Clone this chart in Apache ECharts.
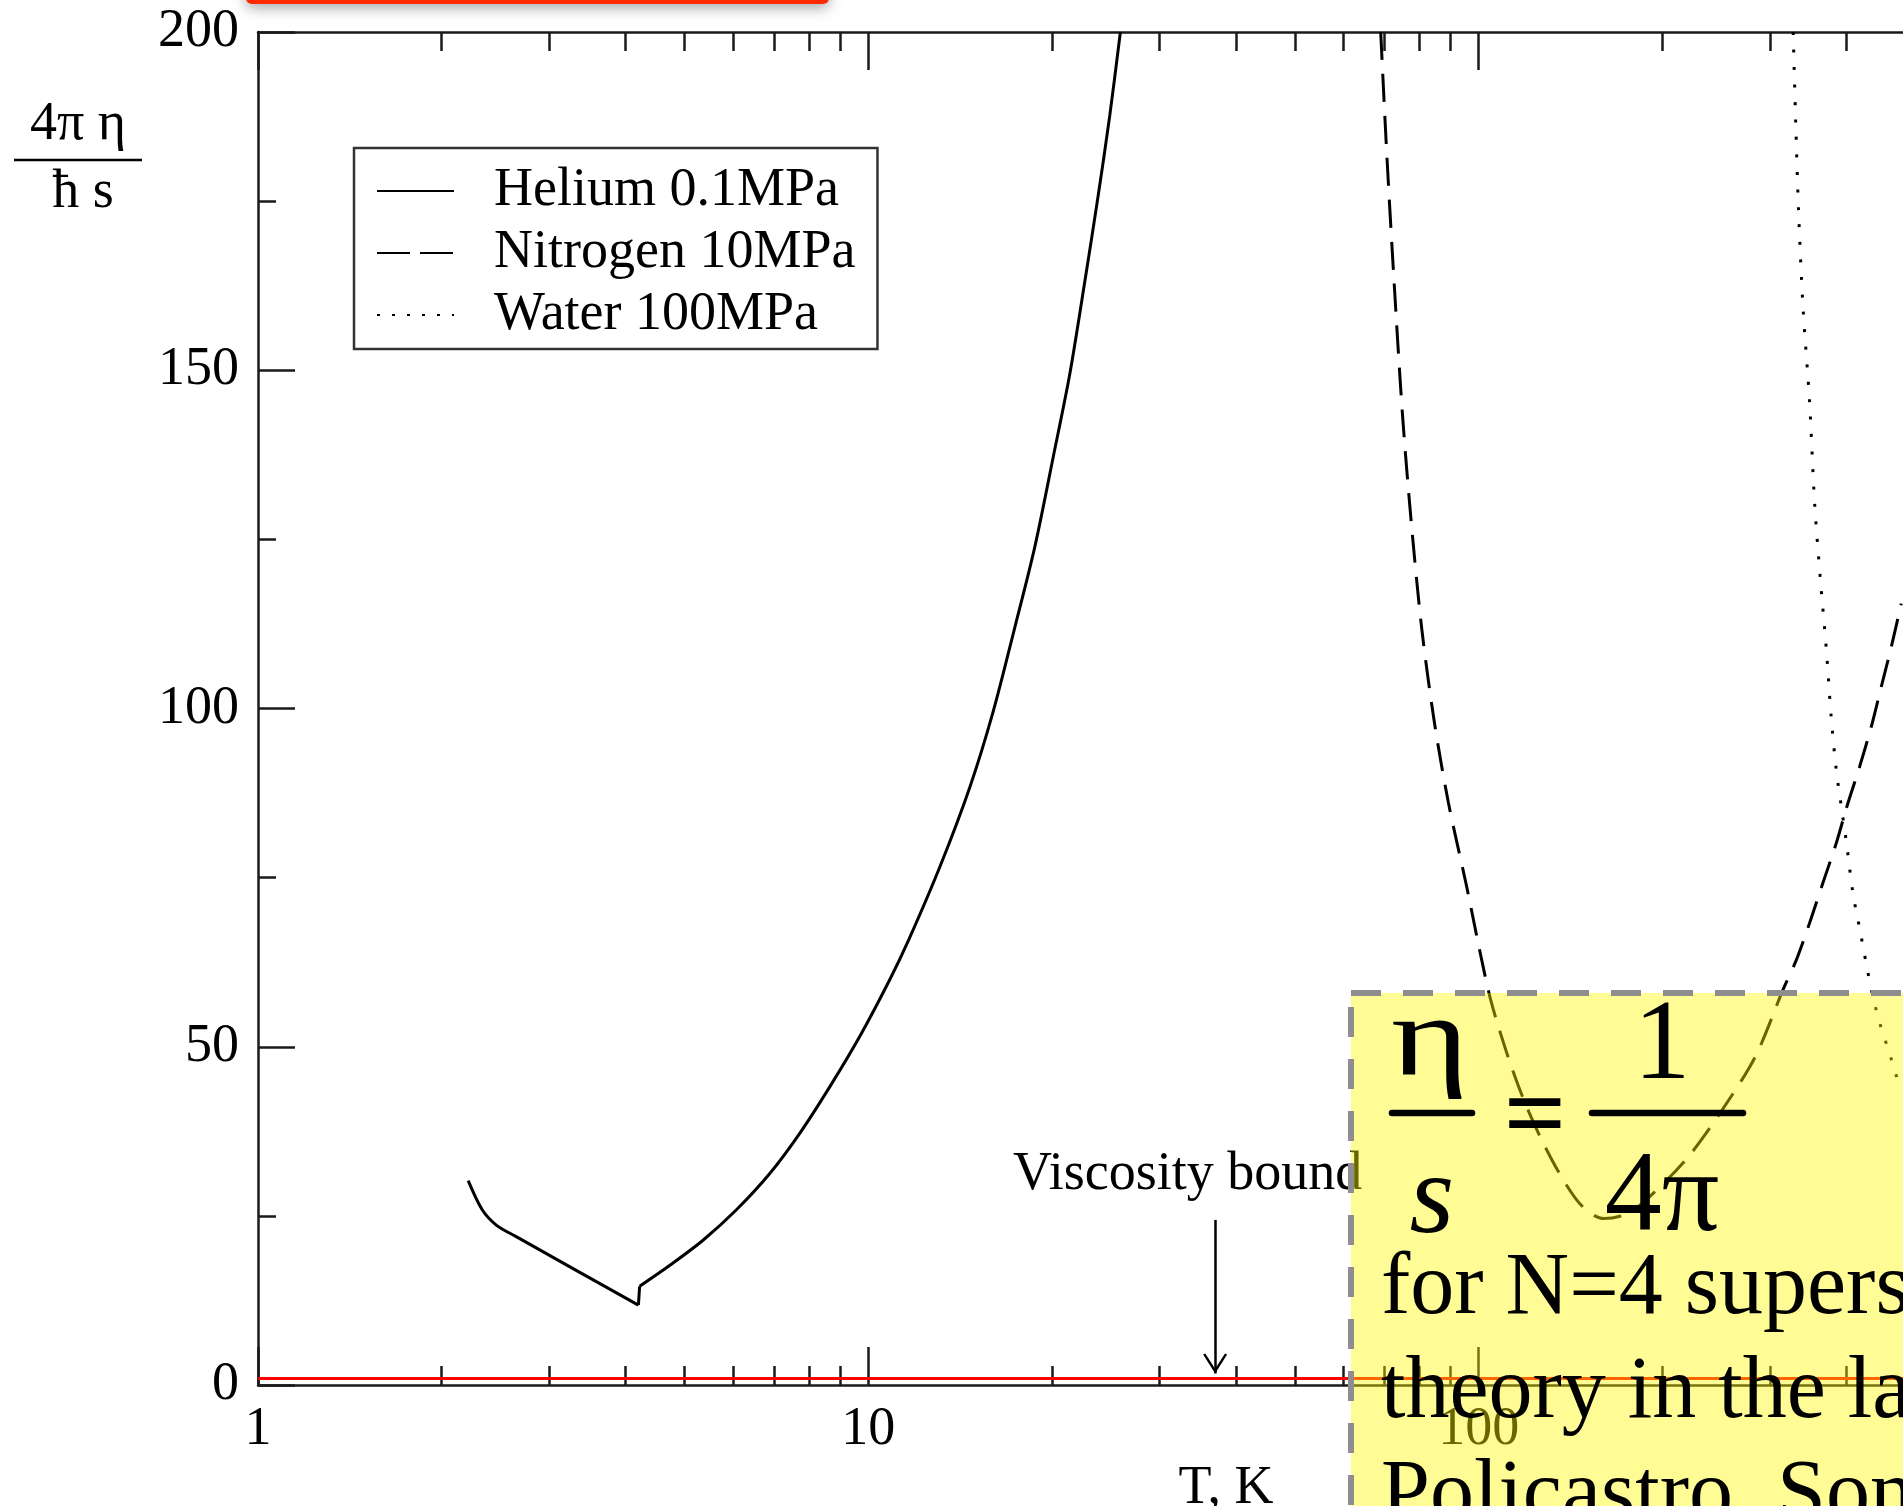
<!DOCTYPE html>
<html>
<head>
<meta charset="utf-8">
<title>Viscosity bound</title>
<script src="https://cdn.jsdelivr.net/npm/echarts@6/dist/echarts.min.js"></script>
<style>
  html, body { margin: 0; padding: 0; background: #fff; }
  #chart { width: 1903px; height: 1506px; }
</style>
</head>
<body>
<div id="chart"></div>
<script>
// temperature (K) and 4*pi*eta/(hbar*s)
// helium has a jump at the boiling point, so it is kept as two branches
const heliumLiquidT = [2.21, 2.33, 2.46, 2.64, 4.20];
const heliumLiquidRatio = [30.2, 25.9, 23.6, 22.0, 11.8];
const heliumGasT = [4.22, 4.73, 5.36, 6.08, 6.90, 7.72, 8.65, 9.68, 10.84, 11.62, 13.10, 14.67, 16.01, 17.38, 18.74, 20.07, 21.38, 22.62, 23.79, 24.86, 25.88];
const heliumGasRatio = [14.6, 17.7, 21.4, 25.9, 31.3, 37.2, 44.1, 51.5, 59.9, 65.6, 76.6, 88.4, 99.5, 112.0, 123.9, 137.0, 149.4, 163.0, 175.7, 187.6, 200];

const nitrogenT = [69.1, 70.7, 72.6, 75.0, 77.6, 80.7, 84.6, 89.2, 95.3, 104.0, 110.8, 118.0, 126.1, 136.6, 147.9, 160.3, 175.9, 195.6, 220.4, 248.6, 283.8, 315.8, 331.4, 348.5, 366.4, 385.4, 402.7, 420.9, 439.8, 456.7, 474.3, 492.5];
const nitrogenRatio = [200, 182.0, 163.8, 143.6, 127.2, 111.7, 98.0, 86.1, 74.2, 57.9, 49.5, 42.6, 36.7, 30.8, 26.4, 24.6, 25.4, 28.8, 33.7, 40.2, 48.5, 58.6, 62.8, 68.3, 74.2, 80.1, 86.0, 91.4, 97.3, 103.2, 109.1, 115.5];

const waterT = [327.6, 330.7, 334.5, 340.0, 348.5, 355.1, 362.8, 371.1, 378.2, 385.4, 392.8, 400.3, 410.4, 420.9, 431.5, 442.5, 458.5, 468.3, 486.7];
const waterRatio = [200, 186.6, 172.9, 159.2, 145.3, 130.5, 119.3, 108.9, 98.6, 90.9, 85.5, 80.3, 72.7, 67.5, 62.3, 57.4, 52.2, 49.8, 44.8];

const seriesNames = ['Helium 0.1MPa', 'Nitrogen 10MPa', 'Water 100MPa'];

// ticks of the log axis
const xMajorTicks = [1, 10, 100, 1000];
const xMinorTicks = [2, 3, 4, 5, 6, 7, 8, 9, 20, 30, 40, 50, 60, 70, 80, 90, 200, 300, 400, 500, 600, 700, 800, 900];

// viscosity bound (eta/s = 1/4pi) and its arrow
const boundValue = 1;
const arrowT = 37;
const arrowTop = 24.4;
const arrowTip = 1.7;

const SERIF = '"Liberation Serif", "DejaVu Serif", serif';
const AXIS_COLOR = '#1a1a1a';

const chart = echarts.init(document.getElementById('chart'));

function pairs(xs, ys) {
  return xs.map((x, i) => [x, ys[i]]);
}

// one log x axis carrying a single set of ticks (major or minor)
function tickAxis(position, ticks, length, showLine, showLabel) {
  return {
    type: 'log',
    logBase: 10,
    min: 1,
    max: 1000,
    position: position,
    axisLine: { show: showLine, onZero: false, lineStyle: { color: AXIS_COLOR, width: 2.5 } },
    axisTick: { show: true, inside: true, length: length, customValues: ticks, lineStyle: { color: AXIS_COLOR, width: 2.5 } },
    axisLabel: {
      show: showLabel,
      customValues: ticks,
      margin: 18,
      fontFamily: SERIF,
      fontSize: 54,
      color: '#000',
      formatter: v => String(v)
    },
    splitLine: { show: false },
    minorTick: { show: false },
    minorSplitLine: { show: false }
  };
}

const bottomAxis = tickAxis('bottom', xMajorTicks, 38, true, true);
bottomAxis.name = 'T, K';
bottomAxis.nameLocation = 'middle';
bottomAxis.nameGap = 74;
bottomAxis.nameTextStyle = { fontFamily: SERIF, fontSize: 54, color: '#000', padding: [0, 0, 0, 105] };

const arrowHead = 'path://M10,0 L20,17 L18.2,18 L10,4.3 L1.8,18 L0,17 Z';

const blackLine = { color: '#000', width: 3 };

const option = {
  backgroundColor: '#fff',
  animation: false,
  grid: { left: 258, top: 32, width: 1831, height: 1353, outerBoundsMode: 'none' },
  legend: {
    orient: 'vertical',
    left: 354,
    top: 148,
    padding: [16, 22, 7, 22],
    itemGap: 8,
    itemWidth: 77,
    itemHeight: 46,
    borderColor: '#333',
    borderWidth: 2.5,
    backgroundColor: '#fff',
    selectedMode: false,
    itemStyle: { opacity: 0 },
    textStyle: { fontFamily: SERIF, fontSize: 54, color: '#000', lineHeight: 46, padding: [0, 0, 0, 35] },
    data: [
      { name: seriesNames[0] },
      { name: seriesNames[1], lineStyle: { type: [33, 10] } },
      { name: seriesNames[2], lineStyle: { type: [3, 12] } }
    ]
  },
  xAxis: [
    bottomAxis,
    tickAxis('bottom', xMinorTicks, 19, false, false),
    tickAxis('top', xMajorTicks, 38, true, false),
    tickAxis('top', xMinorTicks, 19, false, false)
  ],
  yAxis: {
    type: 'value',
    min: 0,
    max: 200,
    interval: 50,
    position: 'left',
    axisLine: { show: true, onZero: false, lineStyle: { color: AXIS_COLOR, width: 2.5 } },
    axisTick: { inside: true, length: 37, lineStyle: { color: AXIS_COLOR, width: 2.5 } },
    minorTick: { show: true, splitNumber: 2, length: 18, lineStyle: { color: AXIS_COLOR, width: 2.5 } },
    axisLabel: { margin: 19, fontFamily: SERIF, fontSize: 54, color: '#000' },
    splitLine: { show: false }
  },
  series: [
    {
      name: seriesNames[0],
      type: 'line',
      data: pairs(heliumLiquidT, heliumLiquidRatio),
      symbol: 'none',
      smooth: 0.3,
      lineStyle: blackLine,
      itemStyle: { color: '#000' },
      markLine: {
        silent: true,
        animation: false,
        symbol: 'none',
        label: { show: false },
        lineStyle: { color: '#000', width: 2.5, type: 'solid' },
        data: [
          { yAxis: boundValue, symbol: 'none', lineStyle: { color: '#ff0000', width: 3, type: 'solid' } },
          [
            { coord: [arrowT, arrowTop], symbol: 'none', lineStyle: { color: '#000', width: 2.5, type: 'solid' } },
            { coord: [arrowT, arrowTip], symbol: arrowHead, symbolSize: [24, 20], symbolOffset: [0, '50%'], lineStyle: { color: '#000', width: 2.5, type: 'solid' } }
          ]
        ]
      }
    },
    {
      // the jump at the boiling point joins the two branches
      name: seriesNames[0],
      type: 'line',
      data: [
        [heliumLiquidT[heliumLiquidT.length - 1], heliumLiquidRatio[heliumLiquidRatio.length - 1]],
        [heliumGasT[0], heliumGasRatio[0]]
      ],
      symbol: 'none',
      lineStyle: blackLine,
      itemStyle: { color: '#000' }
    },
    {
      name: seriesNames[0],
      type: 'line',
      data: pairs(heliumGasT, heliumGasRatio),
      symbol: 'none',
      smooth: 0.3,
      lineStyle: blackLine,
      itemStyle: { color: '#000' }
    },
    {
      name: seriesNames[1],
      type: 'line',
      data: pairs(nitrogenT, nitrogenRatio),
      symbol: 'none',
      smooth: 0.3,
      lineStyle: { color: '#000', width: 3, type: [28, 14] },
      itemStyle: { color: '#000' }
    },
    {
      name: seriesNames[2],
      type: 'line',
      data: pairs(waterT, waterRatio),
      symbol: 'none',
      smooth: 0.3,
      lineStyle: { color: '#000', width: 3, type: [3, 14.5] },
      itemStyle: { color: '#000' }
    }
  ],
  graphic: [
    // red tab peeking in at the top
    {
      type: 'rect', z: 50,
      shape: { x: 246, y: -30, width: 583, height: 34, r: 6 },
      style: { fill: '#ff2a00', shadowBlur: 14, shadowColor: 'rgba(0,0,0,0.35)', shadowOffsetY: 4 }
    },
    // y axis title as a fraction
    {
      type: 'text', x: 78, y: 125,
      style: { text: '4π η', font: '54px ' + SERIF, fill: '#000', align: 'center', verticalAlign: 'middle' }
    },
    {
      type: 'line',
      shape: { x1: 14, y1: 160, x2: 142, y2: 160 },
      style: { stroke: '#000', lineWidth: 2.5 }
    },
    {
      type: 'text', x: 83, y: 193,
      style: { text: 'ħ s', font: '54px ' + SERIF, fill: '#000', align: 'center', verticalAlign: 'middle' }
    },
    // annotation of the red line
    {
      type: 'text', z: 10, x: 1013, y: 1175,
      style: { text: 'Viscosity bound', font: '54px ' + SERIF, fill: '#000', align: 'left', verticalAlign: 'middle' }
    },
    // yellow note box on top of the plot
    {
      type: 'rect', z: 50,
      shape: { x: 1351, y: 993, width: 700, height: 700 },
      style: { fill: 'rgba(255,247,0,0.41)', stroke: '#8e8e8e', lineWidth: 6, lineDash: [30, 22] }
    },
    {
      type: 'text', z: 60, x: 1430, y: 1045, scaleX: 1.3,
      style: { text: 'η', font: '115px ' + SERIF, fill: '#000', align: 'center', verticalAlign: 'middle' }
    },
    {
      type: 'line', z: 60,
      shape: { x1: 1392, y1: 1113, x2: 1472, y2: 1113 },
      style: { stroke: '#000', lineWidth: 6.5, lineCap: 'round' }
    },
    {
      type: 'text', z: 60, x: 1432, y: 1202,
      style: { text: 's', font: 'italic 115px ' + SERIF, fill: '#000', align: 'center', verticalAlign: 'middle' }
    },
    {
      type: 'text', z: 60, x: 1535, y: 1122,
      style: { text: '=', font: 'bold 110px ' + SERIF, fill: '#000', align: 'center', verticalAlign: 'middle' }
    },
    {
      type: 'text', z: 60, x: 1662, y: 1048,
      style: { text: '1', font: '114px ' + SERIF, fill: '#000', align: 'center', verticalAlign: 'middle' }
    },
    {
      type: 'line', z: 60,
      shape: { x1: 1592, y1: 1113, x2: 1743, y2: 1113 },
      style: { stroke: '#000', lineWidth: 6.5, lineCap: 'round' }
    },
    {
      type: 'text', z: 60, x: 1662, y: 1200,
      style: { text: '4π', font: '114px ' + SERIF, fill: '#000', align: 'center', verticalAlign: 'middle' }
    },
    {
      type: 'text', z: 60, x: 1381, y: 1290,
      style: { text: 'for N=4 supersymmetric', font: '88px ' + SERIF, fill: '#000', align: 'left', verticalAlign: 'middle' }
    },
    {
      type: 'text', z: 60, x: 1381, y: 1394,
      style: { text: 'theory in the large N limit', font: '88px ' + SERIF, fill: '#000', align: 'left', verticalAlign: 'middle' }
    },
    {
      type: 'text', z: 60, x: 1381, y: 1497,
      style: { text: 'Policastro, Son, Starinets', font: '88px ' + SERIF, fill: '#000', align: 'left', verticalAlign: 'middle' }
    }
  ]
};

chart.setOption(option);
</script>
</body>
</html>
